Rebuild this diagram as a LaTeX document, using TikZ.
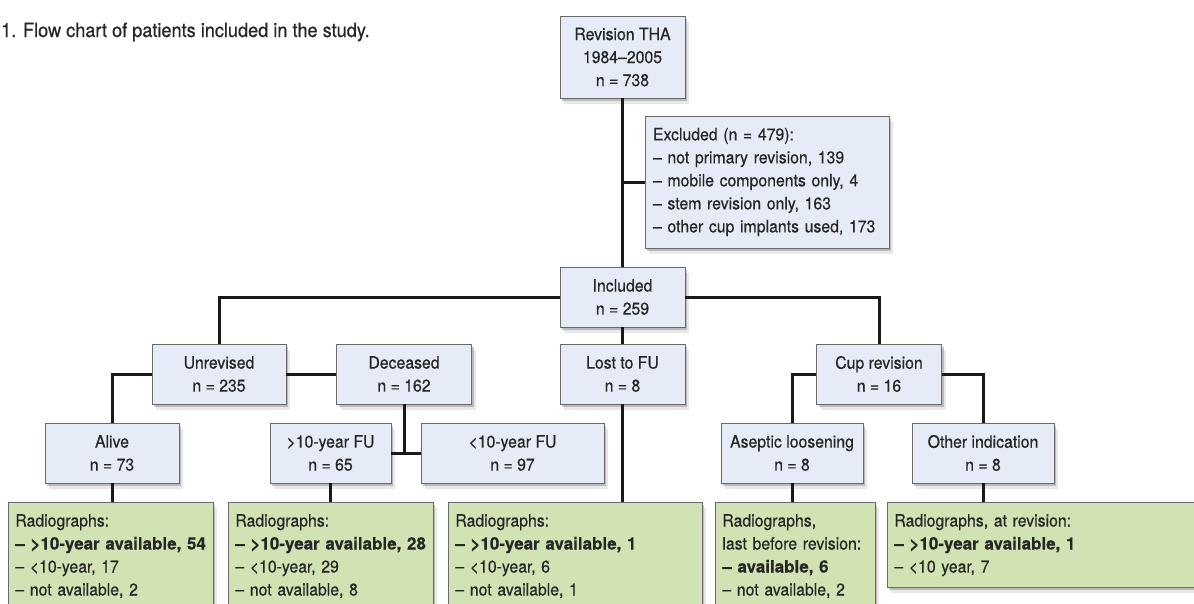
\documentclass[tikz,border=0pt]{standalone}
\usepackage{fontspec}
\setmainfont{TeX Gyre Heros}[FakeStretch=0.93,FakeBold=0.5,BoldFeatures={FakeStretch=1.0,FakeBold=0.3}]
\usetikzlibrary{shadows}
\definecolor{boxblue}{HTML}{E6ECF7}
\definecolor{boxgreen}{HTML}{D1E3B2}
\definecolor{boxline}{HTML}{6A6A6A}
\definecolor{ink}{HTML}{262626}
\tikzset{
  txt/.style={font=\fontsize{17}{23}\selectfont,text=ink},
  boxshadow/.style={drop shadow={shadow xshift=2pt,shadow yshift=-3pt,fill=black!55,opacity=0.4},
    drop shadow={shadow xshift=4pt,shadow yshift=-6pt,fill=black!45,opacity=0.2}},
  grpbox/.style={txt,draw=boxline,line width=0.8pt,fill=boxblue,align=center,
    minimum height=60pt,boxshadow},
  radbox/.style={txt,draw=boxline,line width=0.8pt,fill=boxgreen,align=left,anchor=north west,
    inner xsep=7pt,inner ysep=8pt,boxshadow},
  link/.style={line width=3pt,black!90}
}
\begin{document}
\begin{tikzpicture}[x=1pt,y=-1pt]
    \useasboundingbox (0,0) rectangle (1194,603);
    \node[font=\fontsize{19.5}{23}\selectfont,text=ink,anchor=base west,inner sep=0pt] (cap) at (1,37) {1. Flow chart of patients included in the study.};
    \node[grpbox,minimum width=125pt,minimum height=82pt] (rev) at (622.5,57) {Revision THA\\1984–2005\\n = 738};
    \node[grpbox,align=left,text width=228pt,inner xsep=8pt,minimum height=132pt] (excl) at (767,182)
      {Excluded (n = 479):\\– not primary revision, 139\\– mobile components only, 4\\– stem revision only, 163\\– other cup implants used, 173};
    \node[grpbox,minimum width=125pt] (incl) at (622.5,297) {Included\\n = 259};
    \node[grpbox,minimum width=134pt] (unrev) at (219,374) {Unrevised\\n = 235};
    \node[grpbox,minimum width=135pt] (dec) at (404,374) {Deceased\\n = 162};
    \node[grpbox,minimum width=125pt] (lost) at (622.5,374) {Lost to FU\\n = 8};
    \node[grpbox,minimum width=125pt] (cup) at (879,374) {Cup revision\\n = 16};
    \node[grpbox,minimum width=134pt] (alive) at (112,453) {Alive\\n = 73};
    \node[grpbox,minimum width=121pt] (gt10) at (330.5,453) {>10-year FU\\n = 65};
    \node[grpbox,minimum width=183pt] (lt10) at (512.5,453) {<10-year FU\\n = 97};
    \node[grpbox,minimum width=142pt] (asep) at (792,453) {Aseptic loosening\\n = 8};
    \node[grpbox,minimum width=142pt] (other) at (983,453) {Other indication\\n = 8};
    \node[radbox,text width=191pt] (rad1) at (8,502)
      {\strut Radiographs:\\\textbf{– >10-year available, 54}\\– <10-year, 17\\– not available, 2\strut};
    \node[radbox,text width=191pt] (rad2) at (228,502)
      {\strut Radiographs:\\\textbf{– >10-year available, 28}\\– <10-year, 29\\– not available, 8\strut};
    \node[radbox,text width=240pt] (rad3) at (448,502)
      {\strut Radiographs:\\\textbf{– >10-year available, 1}\\– <10-year, 6\\– not available, 1\strut};
    \node[radbox,text width=146pt] (rad4) at (715,502)
      {\strut Radiographs,\\last before revision:\\\textbf{– available, 6}\\– not available, 2\strut};
    \node[radbox,text width=309pt] (rad5) at (887,502)
      {\strut Radiographs, at revision:\\\textbf{– >10-year available, 1}\\– <10 year, 7\strut};
    \draw[link] (rev) -- (incl);
    \draw[link] (excl.west) -- (excl.west -| rev.south);
    \draw[link] (incl.west) -| (unrev.north);
    \draw[link] (incl.east) -| (cup.north);
    \draw[link] (incl) -- (lost);
    \draw[link] (unrev) -- (dec);
    \draw[link] (unrev.west) -| (alive.north);
    \draw[link] (gt10.east) -- (lt10.west);
    \draw[link] (dec.south) -- (dec.south |- gt10.east);
    \draw[link] (cup.west) -| (asep.north);
    \draw[link] (cup.east) -| (other.north);
    \draw[link] (alive.south) -- (alive.south |- rad1.north);
    \draw[link] (gt10.south) -- (gt10.south |- rad2.north);
    \draw[link] (lost.south) -- (lost.south |- rad3.north);
    \draw[link] (asep.south) -- (asep.south |- rad4.north);
    \draw[link] (other.south) -- (other.south |- rad5.north);
\end{tikzpicture}
\end{document}
